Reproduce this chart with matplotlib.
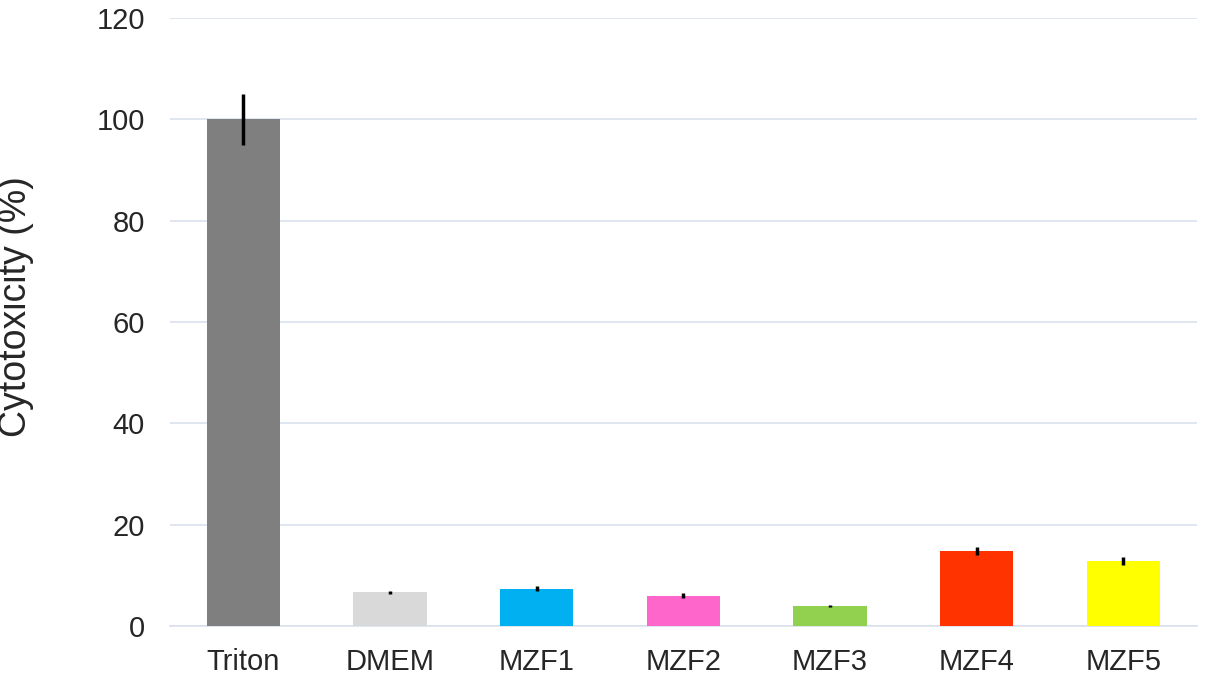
import matplotlib
matplotlib.use("Agg")
import matplotlib.pyplot as plt

plt.rcParams["font.family"] = ["Liberation Sans", "DejaVu Sans"]

labels = ["Triton", "DMEM", "MZF1", "MZF2", "MZF3", "MZF4", "MZF5"]
values = [100.0, 6.7, 7.4, 6.0, 4.0, 14.8, 12.8]
errors = [5.0, 0.3, 0.5, 0.5, 0.2, 0.8, 0.8]
colors = ["#7f7f7f", "#d9d9d9", "#00b0f0", "#ff66cc", "#92d050", "#ff3300", "#ffff00"]

fig = plt.figure(figsize=(12.05, 6.77), dpi=100)
ax = fig.add_axes([0.141, 0.0753, 0.852, 0.898])

x = range(len(labels))
ax.bar(x, values, width=0.5, color=colors, zorder=3)
ax.errorbar(x, values, yerr=errors, fmt="none", ecolor="black", elinewidth=2.5, capsize=0, zorder=4)

ax.set_ylim(0, 120)
ax.set_xlim(-0.5, len(labels) - 0.5)
ax.set_yticks(range(0, 121, 20))
ax.set_xticks(list(x))
ax.set_xticklabels(labels)
ax.tick_params(axis="both", length=0, labelsize=21, colors="#262626")
ax.tick_params(axis="y", pad=18)
ax.tick_params(axis="x", pad=16)
ax.yaxis.grid(True, color="#d9e1ec", linewidth=1.2, zorder=0)
for side in ["top", "right", "left"]:
    ax.spines[side].set_visible(False)
ax.spines["bottom"].set_color("#d9e1ec")
ax.spines["bottom"].set_linewidth(1.2)
ax.set_ylabel("Cytotoxicity (%)", fontsize=27, color="#262626")
ax.yaxis.set_label_coords(-0.132, 0.525)

fig.savefig("out.png", dpi=100)
